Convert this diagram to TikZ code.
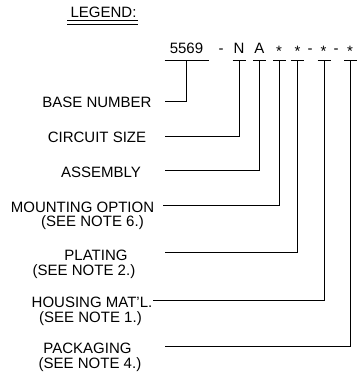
\documentclass[tikz,border=0pt]{standalone}
\usepackage{fontspec}
\setmainfont{Liberation Sans}
\usepackage{tikz}
\usetikzlibrary{calc}
\newcommand{\fieldstar}{\raisebox{-3.3pt}{*}}

\begin{document}
\begin{tikzpicture}[x=1pt,y=-1pt,font=\fontsize{15}{17}\selectfont,line width=0.8pt,
  part/.style={inner sep=0pt,anchor=base},
  lbl/.style={inner sep=0pt,anchor=base},
  note/.style={inner sep=0pt,anchor=base},
  lead/.style={line width=0.8pt}]
\useasboundingbox (0,0) rectangle (360,384);
% heading
\node[lbl] (legend) at (103.5,17.5) {LEGEND:};
\draw[line width=0.5pt] (67,20.5) -- (138,20.5);
\draw (67,24) -- (138,24);
% part number 5569 - N A * * - * - *
\node[part] (pbase) at (186.5,53) {5569};
\node[part] (d1) at (221,53) {-};
\node[part] (pn) at (239,53) {N};
\node[part] (pa) at (259.5,53) {A};
\node[part] (pm) at (279,53) {\fieldstar};
\node[part] (pp) at (297.5,53) {\fieldstar};
\node[part] (d2) at (310,53) {-};
\node[part] (ph) at (323.5,53) {\fieldstar};
\node[part] (d3) at (336,53) {-};
\node[part] (pk) at (350,53) {\fieldstar};
% tick marks under the fields
\coordinate (t1) at (186.5,60);
\coordinate (t2) at (239,60);
\coordinate (t3) at (259.5,60);
\coordinate (t4) at (279.5,60);
\coordinate (t5) at (297.5,60);
\coordinate (t6) at (324,60);
\coordinate (t7) at (350.5,60);
\draw (164.5,60) -- (209,60);
\foreach \t in {t2,t3,t4,t5,t6,t7}
  \draw ($(\t)+(-6.5,0)$) -- ($(\t)+(6.5,0)$);
% labels
\node[lbl] (lbase) at (97,107) {BASE NUMBER};
\node[lbl] (lcirc) at (97,142) {CIRCUIT SIZE};
\node[lbl] (lasm) at (101,177) {ASSEMBLY};
\node[lbl] (lmnt) at (82.5,212) {MOUNTING OPTION};
\node[note] (nmnt) at (92.5,226.5) {(SEE NOTE 6.)};
\node[lbl] (lplt) at (96,260) {PLATING};
\node[note] (nplt) at (84,275) {(SEE NOTE 2.)};
\node[lbl] (lhsg) at (92,307) {HOUSING MAT'L.};
\node[note] (nhsg) at (90.5,322) {(SEE NOTE 1.)};
\node[lbl] (lpkg) at (87.5,353) {PACKAGING};
\node[note] (npkg) at (90,368) {(SEE NOTE 4.)};
% leader start points
\coordinate (s1) at (165,101);
\coordinate (s2) at (165,136);
\coordinate (s3) at (165,170);
\coordinate (s4) at (163,205);
\coordinate (s5) at (165,252);
\coordinate (s6) at (153,300);
\coordinate (s7) at (165,346);
% leaders
\draw[lead] (s1) -| (t1);
\draw[lead] (s2) -| (t2);
\draw[lead] (s3) -| (t3);
\draw[lead] (s4) -| (t4);
\draw[lead] (s5) -| (t5);
\draw[lead] (s6) -| (t6);
\draw[lead] (s7) -| (t7);
\end{tikzpicture}
\end{document}
